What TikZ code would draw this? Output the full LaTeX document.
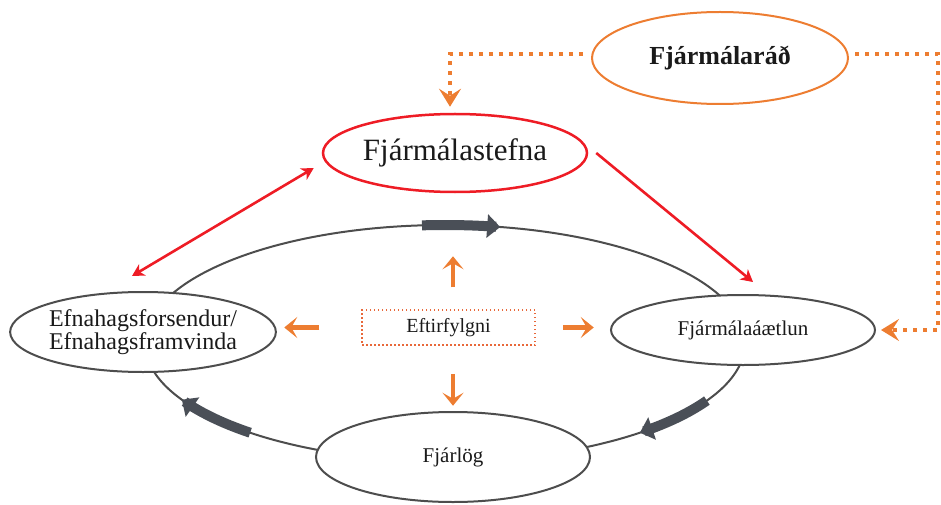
\documentclass[tikz,border=0pt]{standalone}
\usepackage{fontspec}
\setmainfont{Liberation Serif}
\usetikzlibrary{shapes.geometric,arrows.meta}
\definecolor{cyc}{HTML}{4D4D4D}
\definecolor{cyarrow}{HTML}{4A4F57}
\definecolor{rd}{HTML}{EE1C25}
\definecolor{org}{HTML}{ED7D31}
\definecolor{boxc}{HTML}{E8683A}
\definecolor{txt}{HTML}{1A1A1A}
\tikzset{redtip/.tip={Stealth[length=12pt,width=13pt,inset=3.5pt]}}
\begin{document}
\begin{tikzpicture}[x=1pt,y=-1pt,
  ell/.style={ellipse, draw=cyc, line width=2pt, fill=white, inner sep=0pt, text=txt, align=center},
  cyarr/.style={cyarrow, line width=10pt, -{Triangle[length=13pt,width=23pt]}},
  redarr/.style={rd, line width=2.6pt},
  dots/.style={org, line width=4pt, dash pattern=on 4pt off 6pt},
  dottip/.style={-{Stealth[length=18pt,width=22pt,inset=7pt]}},
  oarr/.style={org, line width=4.5pt, -{Stealth[length=13pt,width=21pt,inset=6pt]}}]
\useasboundingbox (0,0) rectangle (941,505);
% cycle ellipse
\draw[cyc, line width=2pt] (445,343) ellipse [x radius=300pt, y radius=118pt];
% nodes
\node[ell, draw=org, minimum width=256pt, minimum height=92pt, font=\fontsize{26}{30}\selectfont\bfseries] (fr) at (720,58) {Fjármálaráð};
\node[ell, draw=rd, line width=2.5pt, minimum width=264pt, minimum height=78pt, font=\fontsize{31}{34}\selectfont] (fs) at (455,153) {Fjármálastefna};
\node[ell, minimum width=264pt, minimum height=80pt, font=\fontsize{24}{23}\selectfont] (ef) at (143,332) {Efnahagsforsendur/\\Efnahagsframvinda};
\node[ell, minimum width=264pt, minimum height=70pt, font=\fontsize{21}{24}\selectfont] (fa) at (743,330) {Fjármálaáætlun};
\node[ell, minimum width=274pt, minimum height=90pt, font=\fontsize{21}{24}\selectfont] (fl) at (453,457) {Fjárlög};
\node[draw=boxc, line width=1.5pt, dash pattern=on 1.5pt off 2.5pt, minimum width=173pt, minimum height=35pt, inner sep=0pt, text=txt, font=\fontsize{20}{24}\selectfont] (et) at (448.5,327.5) {Eftirfylgni};
% cycle arrows
\draw[cyarr] plot[domain=-94.4:-79.4, samples=20] ({445+300*cos(\x)},{343+118*sin(\x)});
\draw[cyarr] plot[domain=29.2:49.5, samples=20] ({445+300*cos(\x)},{343+118*sin(\x)});
\draw[cyarr] plot[domain=130.5:151.3, samples=20] ({445+300*cos(\x)},{343+118*sin(\x)});
% red arrows
\draw[redarr, redtip-redtip] ([shift={(-11,-15)}]ef.north) -- ([shift={(-8,15)}]fs.west);
\draw[redarr, -redtip] ([shift={(8,0)}]fs.east) -- ([shift={(10,-12)}]fa.north);
% orange dotted connectors
\coordinate (cr) at (938,330);
\draw[dots, dottip] ([shift={(-8,-4)}]fr.west) -| ([shift={(-5,-6)}]fs.north);
\draw[dots, dottip] ([shift={(6,-4)}]fr.east) -| (cr) -- ([xshift=5]fa.east);
% follow-up arrows
\draw[oarr] ([shift={(4.5,-22)}]et.north) -- ([shift={(4.5,-53)}]et.north);
\draw[oarr] ([shift={(4.5,28)}]et.south) -- ([shift={(4.5,60)}]et.south);
\draw[oarr] ([shift={(-42,0)}]et.west) -- ([shift={(-77,0)}]et.west);
\draw[oarr] ([shift={(27,0)}]et.east) -- ([shift={(58,0)}]et.east);
\end{tikzpicture}
\end{document}
